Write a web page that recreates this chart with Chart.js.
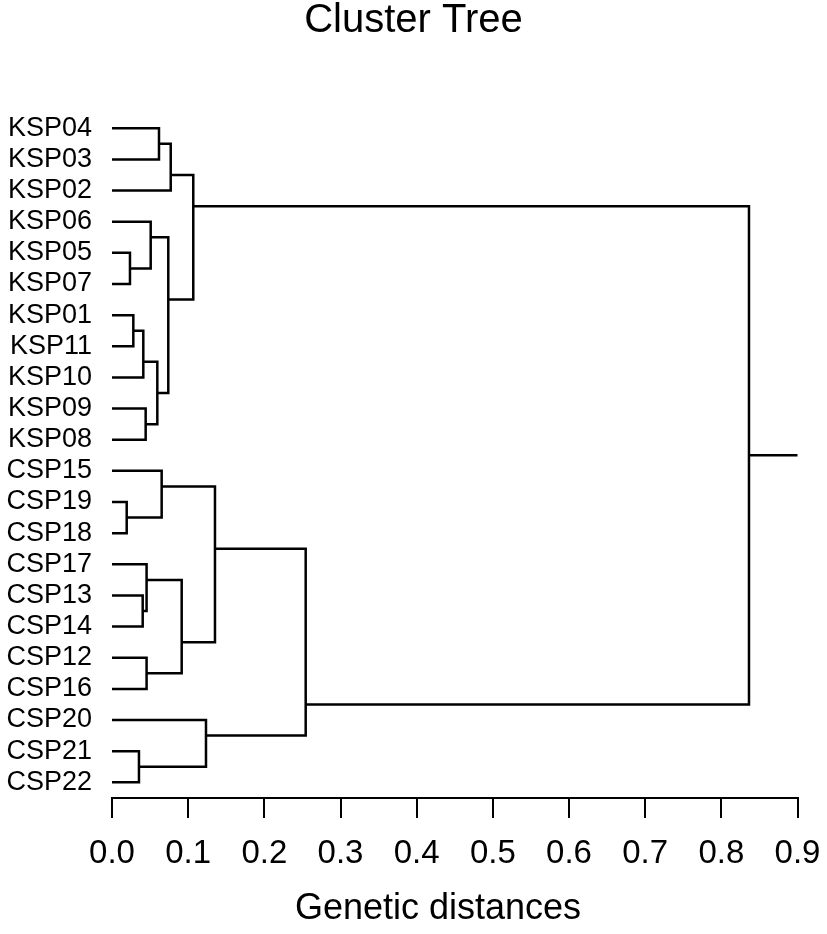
<!DOCTYPE html>
<html>
<head>
<meta charset="utf-8">
<script src="https://cdn.jsdelivr.net/npm/chart.js@4"></script>
<style>
    body { margin: 0; background: #fff; }
    #wrap { width: 827px; height: 934px; }
</style>
</head>
<body>
<div id="wrap"><canvas id="treeChart"></canvas></div>
<script>
// leaf order, top to bottom
const leaves = ['KSP04', 'KSP03', 'KSP02', 'KSP06', 'KSP05', 'KSP07', 'KSP01', 'KSP11', 'KSP10', 'KSP09', 'KSP08',
    'CSP15', 'CSP19', 'CSP18', 'CSP17', 'CSP13', 'CSP14', 'CSP12', 'CSP16', 'CSP20', 'CSP21', 'CSP22'];

// merge table (hclust style): negative = leaf number (1-based), positive = earlier merge
const mergeTop = [-5, -7, -13, -21, -16, 2, -10, -15, -18, -4, 6, -1, -12, 10, 12, 8, 13, -20, 15, 17, 19];
const mergeBottom = [-6, -8, -14, -22, -17, -9, -11, 5, -19, 1, 7, -2, 3, 11, -3, 9, 16, 4, 14, 18, 20];
const mergeHeight = [0.0236, 0.028, 0.0193, 0.0354, 0.0403, 0.0411, 0.0442, 0.0454, 0.0454, 0.0508, 0.0595,
    0.0617, 0.0652, 0.0739, 0.0771, 0.0915, 0.1352, 0.1234, 0.1067, 0.2543, 0.8363];
const rootEnd = 0.9;

const xTicks = [0, 0.1, 0.2, 0.3, 0.4, 0.5, 0.6, 0.7, 0.8, 0.9];
const xTitle = 'Genetic distances';

const FONT = "'Liberation Sans', Arial, sans-serif";

// build branch segments
const nodes = [];
const getNode = (ref) => {
    if (ref < 0) {
        return { y: -ref - 1, h: 0, first: -ref - 1, count: 1 };
    }
    return nodes[ref - 1];
};
const branches = [];
mergeTop.forEach((a, i) => {
    const top = getNode(a);
    const bot = getNode(mergeBottom[i]);
    const h = mergeHeight[i];
    // node sits at the split between its two leaf blocks
    nodes.push({
        y: top.first + top.count - 0.5,
        h: h,
        first: top.first,
        count: top.count + bot.count,
    });
    branches.push([
        { x: top.h, y: top.y },
        { x: h, y: top.y },
        { x: h, y: bot.y },
        { x: bot.h, y: bot.y },
    ]);
});
const root = nodes[nodes.length - 1];
branches.push([{ x: root.h, y: root.y }, { x: rootEnd, y: root.y }]);

// x axis title, drawn under the tick labels
const axisTitle = {
    id: 'axisTitle',
    afterDraw: (chart) => {
        const ctx = chart.ctx;
        ctx.save();
        ctx.fillStyle = '#000';
        ctx.font = '36px ' + FONT;
        ctx.textAlign = 'center';
        ctx.textBaseline = 'middle';
        ctx.fillText(xTitle, 438, 909);
        ctx.restore();
    }
};

new Chart(document.getElementById('treeChart'), {
    type: 'scatter',
    data: {
        datasets: branches.map((pts) => {
            return {
                data: pts,
                showLine: true,
                borderColor: '#000',
                borderWidth: 2.5,
                pointRadius: 0,
                fill: false,
                clip: false,
            };
        }),
    },
    options: {
        responsive: true,
        maintainAspectRatio: false,
        animation: false,
        layout: { padding: 0 },
        plugins: {
            legend: { display: false },
            tooltip: { enabled: false },
            title: {
                display: true,
                text: 'Cluster Tree',
                color: '#000',
                font: { family: FONT, size: 40, weight: 'normal', lineHeight: 1.05 },
                padding: { top: 0, bottom: 70.7 },
            },
        },
        scales: {
            x: {
                type: 'linear',
                min: 0,
                max: 0.9,
                afterBuildTicks: (scale) => {
                    scale.ticks = xTicks.map((v) => ({ value: v }));
                },
                afterFit: (scale) => {
                    scale.height = 136.1;
                    scale.paddingLeft = 0;
                    scale.paddingRight = 29.5;
                },
                ticks: {
                    color: '#000',
                    font: { family: FONT, size: 33 },
                    padding: 16,
                    maxRotation: 0,
                    autoSkip: false,
                    callback: (v) => v.toFixed(1),
                },
                grid: {
                    drawOnChartArea: false,
                    drawTicks: true,
                    tickLength: 20,
                    color: '#000',
                    lineWidth: 2,
                },
                border: { display: true, color: '#000', width: 2 },
            },
            y: {
                type: 'linear',
                reverse: true,
                min: -0.5,
                max: leaves.length - 0.5,
                afterBuildTicks: (scale) => {
                    scale.ticks = leaves.map((_, i) => ({ value: i }));
                },
                afterFit: (scale) => {
                    scale.width = 112;
                },
                ticks: {
                    color: '#000',
                    font: { family: FONT, size: 27 },
                    padding: 20,
                    autoSkip: false,
                    callback: (v) => leaves[v],
                },
                grid: { display: false, drawTicks: false, tickLength: 0 },
                border: { display: false },
            },
        },
    },
    plugins: [axisTitle],
});
</script>
</body>
</html>
